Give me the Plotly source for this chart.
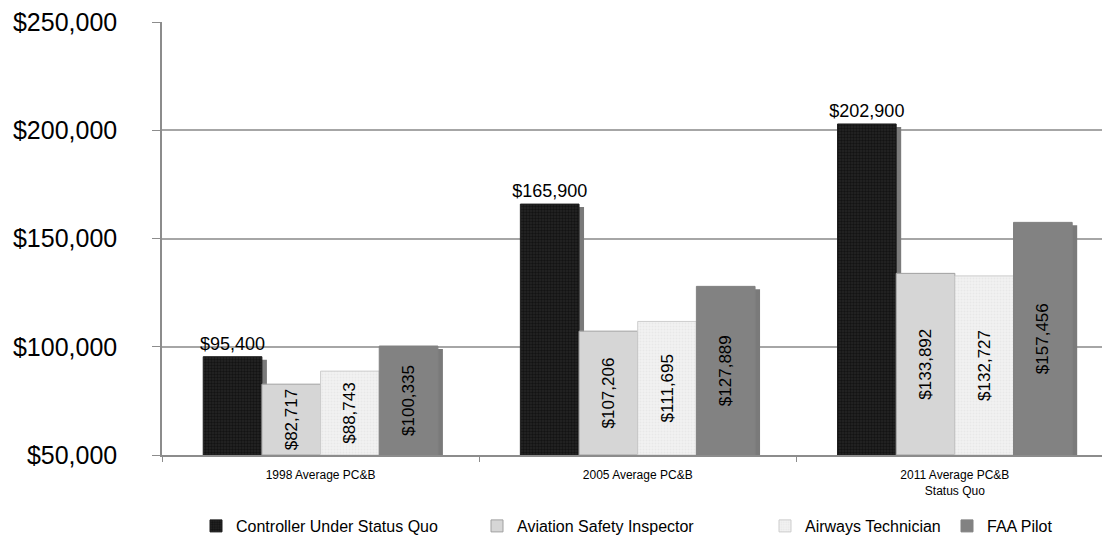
import plotly.graph_objects as go

categories = ["1998 Average PC&B", "2005 Average PC&B", "2011 Average PC&B<br>Status Quo"]
series_names = ["Controller Under Status Quo", "Aviation Safety Inspector", "Airways Technician", "FAA Pilot"]
controller = [95400, 165900, 202900]
inspector = [82717, 107206, 133892]
technician = [88743, 111695, 132727]
pilot = [100335, 127889, 157456]
y_ticks = [50000, 100000, 150000, 200000, 250000]

values = [controller, inspector, technician, pilot]
fills = ["#1e1e1e", "#d6d6d6", "#efefef", "#828282"]
lines = ["#1e1e1e", "#a0a0a0", "#cdcdcd", "#828282"]

FONT = "Liberation Sans, Arial, sans-serif"
W, H = 1102, 539
ML, MR, MT, MB = 162, 0, 22, 84
pw = W - ML - MR
ph = H - MT - MB
xr = [-0.5, 2.464]
yr = [50000, 250000]
base = yr[0]
dx = 5 * (xr[1] - xr[0]) / pw
dy = 3 * (yr[1] - yr[0]) / ph

fig = go.Figure()

# shadows on the (hidden) base axes, drawn beneath the overlay
for i, vals in enumerate(values):
    fig.add_trace(go.Bar(
        x=categories, y=[v - base for v in vals], base=base, xaxis="x", yaxis="y",
        showlegend=False, marker=dict(color="#7a7a7a", line=dict(width=0)),
        hoverinfo="skip",
    ))

legend_px = [196, 477, 765, 947]
legend_ids = ["legend", "legend2", "legend3", "legend4"]

for i, vals in enumerate(values):
    if i == 0:
        kw = dict(text=[f"${v:,.0f}" for v in vals], textposition="outside",
                  textfont=dict(size=18, color="#000", family=FONT))
    else:
        kw = dict(text=[f"${v:,.0f}" for v in vals], textposition="inside",
                  insidetextanchor="middle", textangle=-90,
                  textfont=dict(size=17, color="#000", family=FONT))
    marker = dict(color=fills[i], line=dict(color=lines[i], width=1))
    if i == 0:
        marker["pattern"] = dict(shape=".", bgcolor="#262626", fgcolor="#000000", size=3, solidity=0.5)
    elif i == 2:
        marker["pattern"] = dict(shape=".", bgcolor="#f2f2f2", fgcolor="#dddddd", size=3, solidity=0.4)
    fig.add_trace(go.Bar(
        x=categories, y=[v - base for v in vals], base=base, name=series_names[i],
        xaxis="x2", yaxis="y2", marker=marker, constraintext="none",
        cliponaxis=False, legend=legend_ids[i], **kw,
    ))

axis_line = "#8c8c8c"
layout = dict(
    width=W, height=H,
    margin=dict(l=ML, r=MR, t=MT, b=MB, autoexpand=False),
    paper_bgcolor="white", plot_bgcolor="white",
    barmode="group", bargap=0.26, bargroupgap=0,
    font=dict(family=FONT, color="#000"),
    xaxis=dict(range=[xr[0] - dx, xr[1] - dx], type="category", visible=False,
               showgrid=False, automargin=False),
    yaxis=dict(range=[yr[0] + dy, yr[1] + dy], visible=False, showgrid=False,
               zeroline=False, automargin=False),
    xaxis2=dict(range=xr, type="category", overlaying="x", anchor="y2", side="bottom",
                tickson="boundaries", ticks="outside", ticklen=5, tickcolor=axis_line,
                showline=True, linecolor=axis_line, linewidth=1.5, showgrid=False,
                tickfont=dict(size=12, family=FONT), ticklabelstandoff=8,
                automargin=False),
    yaxis2=dict(range=yr, overlaying="y", anchor="x2", side="left",
                tickvals=y_ticks, tickformat="$,.0f", ticks="outside",
                ticklen=8, tickcolor=axis_line, showline=True, linecolor=axis_line,
                linewidth=1.5, showgrid=True, gridcolor="#a6a6a6", gridwidth=1.5,
                tickfont=dict(size=25, family=FONT), zeroline=False,
                ticklabelstandoff=30, automargin=False),
)
for lid, px in zip(legend_ids, legend_px):
    layout[lid] = dict(orientation="h", x=(px - ML) / pw, xanchor="left",
                       y=(MT + ph - 526) / ph, yanchor="middle",
                       font=dict(size=16, family=FONT), itemwidth=30,
                       bgcolor="rgba(0,0,0,0)")
fig.update_layout(**layout)

fig.write_html("out.html")
